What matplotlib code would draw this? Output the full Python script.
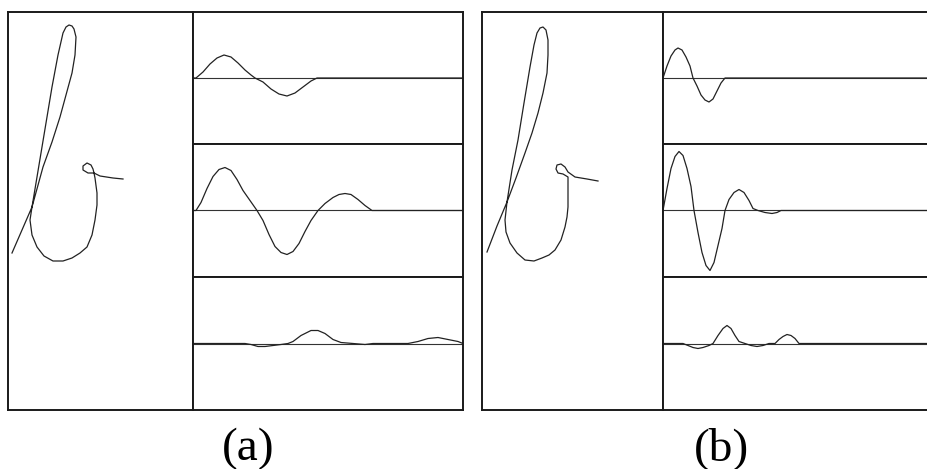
import numpy as np
import matplotlib
matplotlib.use("Agg")
import matplotlib.pyplot as plt

plt.rcParams['font.family'] = 'serif'
plt.rcParams['font.serif'] = ['Liberation Serif', 'DejaVu Serif']

W, H = 927, 469

# pen trajectory, panel (a) -- x right, y up, units = px of the scan
traj_a_x = [4, 14, 24, 34, 44, 50, 55, 58, 61, 64, 66, 68, 67, 64, 58, 52, 44, 35, 24,
            22, 24, 29, 36, 45, 55, 64, 72, 79, 84, 87, 89, 89, 87, 86,
            80, 75, 75, 79, 83, 85, 86, 92, 105, 115]
traj_a_y = [157, 180, 203, 263, 323, 355, 377, 383, 385, 384, 381, 373, 355, 337, 315, 293, 268, 243, 203,
            190, 175, 163, 154, 149, 149, 152, 157, 163, 175, 190, 205, 217, 232, 237,
            237, 240, 244, 247, 245, 241, 237, 234, 232, 231]

# pen trajectory, panel (b)
traj_b_x = [5, 15, 25, 30, 36, 42, 48, 52, 55, 58, 61, 64, 66, 66, 65, 61, 56, 50, 43, 34, 25,
            23, 24, 28, 35, 43, 52, 60, 67, 73, 79, 83, 85, 86, 86, 86,
            81, 76, 74, 75, 79, 83, 86, 93, 105, 116]
traj_b_y = [158, 184, 208, 240, 270, 307, 343, 365, 377, 382, 383, 380, 370, 355, 337, 317, 297, 277, 257, 232, 208,
            190, 178, 167, 157, 150, 149, 152, 155, 160, 170, 183, 193, 203, 220, 233,
            236, 237, 241, 245, 246, 243, 238, 233, 231, 229]

# velocity profiles (a): time, value
va1_t = [0, 3, 10, 17, 24, 31, 38, 45, 52, 58, 62, 70, 78, 86, 94, 102, 110, 118, 124, 270]
va1_v = [0, 0, 6, 14, 20, 23, 21, 15, 8, 3, 0, -4, -11, -16, -18, -15, -9, -3, 0, 0]

va2_t = [0, 3, 8, 14, 20, 26, 32, 38, 44, 50, 57, 64, 70, 76, 82, 88, 94, 100, 106, 112, 118,
         125, 132, 140, 146, 152, 158, 165, 172, 179, 270]
va2_v = [0, 0, 8, 22, 34, 41, 43, 40, 31, 20, 10, 0, -10, -24, -36, -42, -44, -41, -33, -21, -10,
         0, 7, 13, 16, 17, 16, 11, 5, 0, 0]

va3_t = [0, 52, 58, 65, 72, 80, 88, 95, 100, 108, 118, 125, 132, 140, 148, 160, 172, 180,
         215, 225, 235, 245, 255, 265, 270]
va3_v = [0, 0, -1, -3, -3, -2, -1, 0, 2, 8, 13, 13, 10, 4, 1, 0, -1, 0,
         0, 2, 5, 6, 4, 2, 0]

# velocity profiles (b)
vb1_t = [0, 4, 8, 12, 15, 19, 23, 27, 30, 34, 38, 42, 46, 50, 54, 58, 62, 272]
vb1_v = [0, 12, 22, 28, 30, 28, 21, 12, 0, -8, -17, -22, -24, -21, -13, -5, 0, 0]

vb2_t = [0, 4, 8, 12, 16, 20, 24, 28, 31, 35, 39, 43, 47, 51, 55, 59, 62, 66, 71, 76, 81, 86,
         90, 95, 102, 109, 114, 118, 272]
vb2_v = [0, 22, 42, 54, 59, 55, 42, 24, 0, -22, -42, -55, -60, -52, -35, -18, 0, 11, 18, 21, 18, 10,
         2, 0, -2, -3, -2, 0, 0]

vb3_t = [0, 20, 25, 30, 35, 40, 46, 50, 55, 60, 64, 68, 72, 76, 82, 88, 94, 100, 106,
         112, 116, 120, 124, 128, 132, 136, 272]
vb3_v = [0, 0, -2, -4, -5, -4, -2, 0, 8, 15, 18, 15, 8, 2, 0, -2, -3, -2, 0,
         0, 4, 7, 9, 8, 5, 0, 0]

labels = ["(a)", "(b)"]

fig = plt.figure(figsize=(W / 100, H / 100), dpi=100)


def box(x0, y0, w, h):
    # pixel box (top-left origin) -> axes
    ax = fig.add_axes([x0 / W, 1 - (y0 + h) / H, w / W, h / H])
    ax.set_xticks([])
    ax.set_yticks([])
    for s in ax.spines.values():
        s.set_linewidth(1.4)
        s.set_color("#1a1a1a")
    return ax


def draw_group(x_left, w_left, w_right, tx, ty, vels):
    top, bot = 12, 410
    ax = box(x_left, top, w_left, bot - top)
    ax.plot(tx, ty, color="#222222", lw=0.9)
    ax.set_xlim(0, w_left)
    ax.set_ylim(0, bot - top)

    edges = [12, 144, 277, 410]
    for i, (t, v) in enumerate(vels):
        h = edges[i + 1] - edges[i]
        axv = box(x_left + w_left, edges[i], w_right, h)
        axv.axhline(0, color="#333333", lw=0.8)
        axv.plot(t, v, color="#222222", lw=0.9)
        axv.set_xlim(0, w_right)
        axv.set_ylim(-h / 2, h / 2)


draw_group(8, 185, 270, traj_a_x, traj_a_y,
           [(va1_t, va1_v), (va2_t, va2_v), (va3_t, va3_v)])
draw_group(482, 181, 272, traj_b_x, traj_b_y,
           [(vb1_t, vb1_v), (vb2_t, vb2_v), (vb3_t, vb3_v)])

fig.text(248 / W, (H - 460) / H, labels[0], ha="center", va="baseline", fontsize=34)
fig.text(722 / W, (H - 460) / H, labels[1], ha="center", va="baseline", fontsize=34)

fig.savefig("out.png", dpi=100)
